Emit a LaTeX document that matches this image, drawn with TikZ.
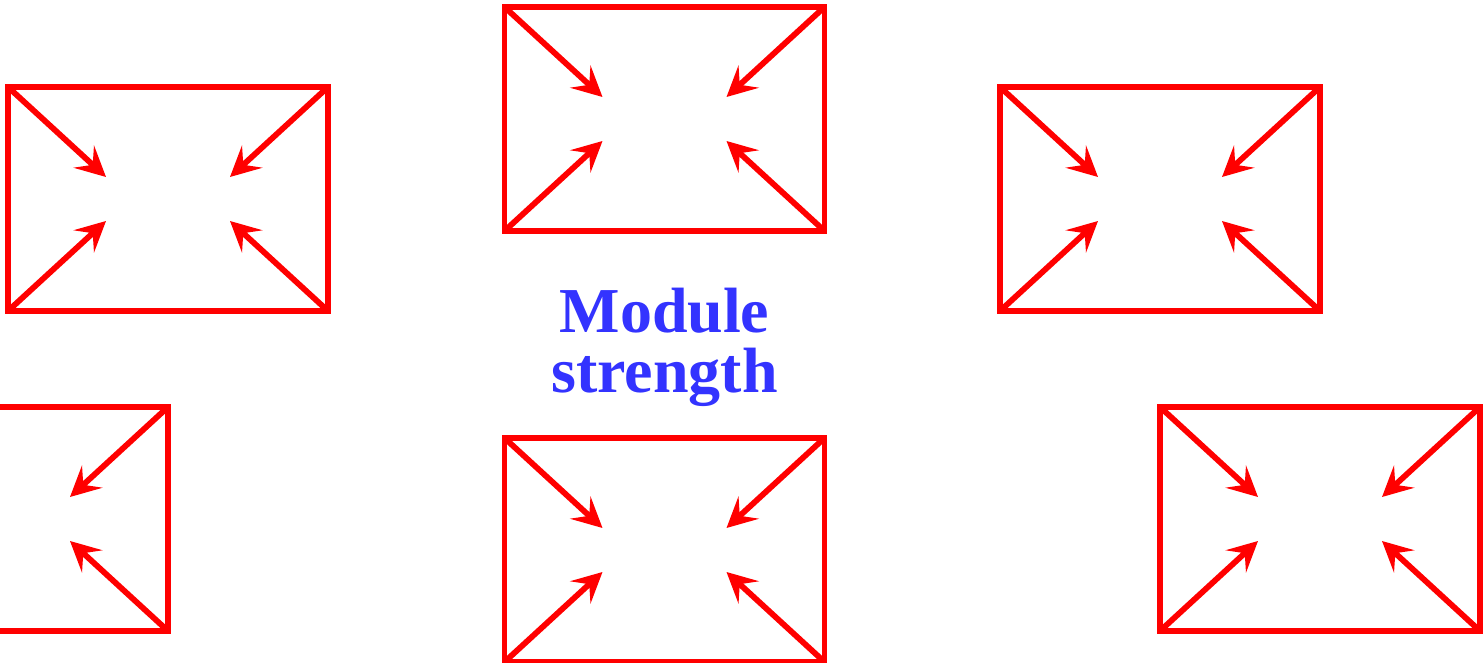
\documentclass[tikz,border=0pt]{standalone}
\usepackage{fontspec}
\setmainfont{Liberation Serif}
\usetikzlibrary{arrows.meta}
\definecolor{boxred}{RGB}{255,0,0}
\definecolor{txtblue}{RGB}{51,51,255}
\tikzset{
  modbox/.style={draw=boxred, line width=5.8pt, rectangle, minimum width=320pt, minimum height=224pt, inner sep=0pt, outer sep=0pt},
  inarrow/.style={draw=boxred, line width=5.8pt, -{Stealth[length=30pt, width=30pt, inset=12pt]}},
  label/.style={text=txtblue, font=\fontsize{64}{60}\selectfont\bfseries, align=center, inner sep=0pt}
}
\begin{document}
\begin{tikzpicture}[x=1pt, y=-1pt]
\useasboundingbox (0,0) rectangle (1484,663);
\clip (0,0) rectangle (1484,663);
\node[modbox] (A) at (168,199) {};
\node[modbox] (B) at (664.5,119) {};
\node[modbox] (C) at (1160,199) {};
\node[modbox] (D) at (8,519) {};
\node[modbox] (E) at (664.5,550) {};
\node[modbox] (F) at (1320,519) {};
\foreach \n in {A,B,C,E,F}{
  \draw[inarrow] (\n.north west) -- ++(98,90);
  \draw[inarrow] (\n.south west) -- ++(98,-90);
}
\foreach \n in {A,B,C,D,E,F}{
  \draw[inarrow] (\n.north east) -- ++(-98,90);
  \draw[inarrow] (\n.south east) -- ++(-98,-90);
}
\node[label] (T) at (664.5,347) {Module\\strength};
\end{tikzpicture}
\end{document}
